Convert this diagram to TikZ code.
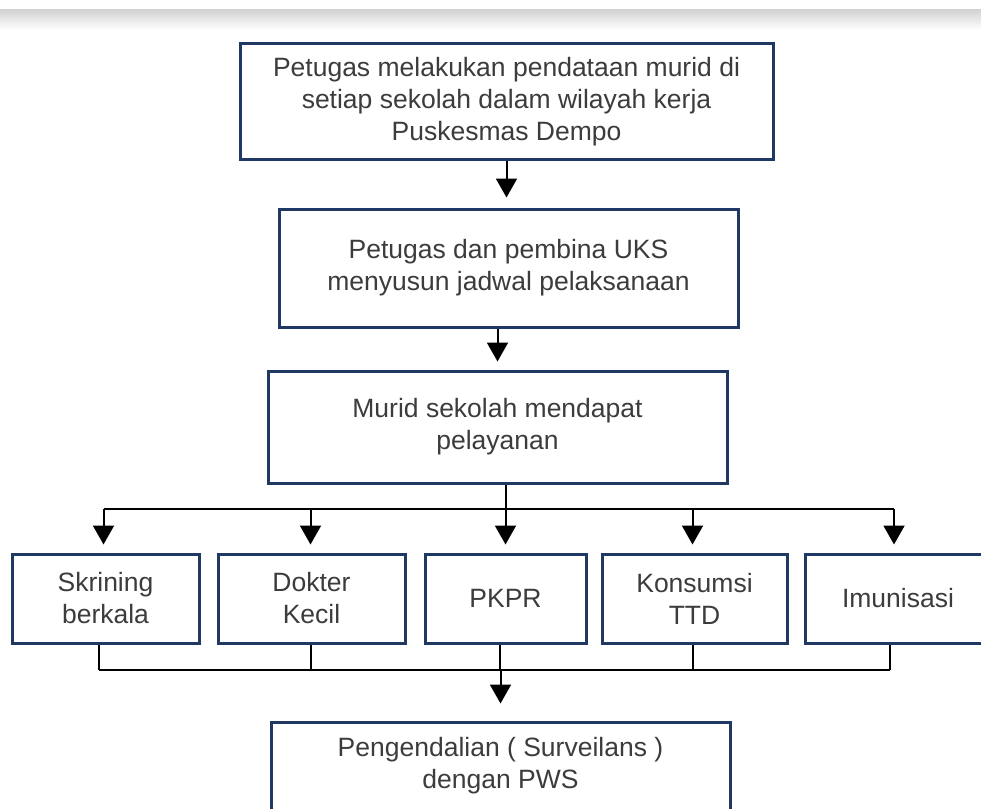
\documentclass[tikz,border=0pt]{standalone}
\usepackage{fontspec}
\setmainfont{Liberation Sans}
\usepackage{tikz}
\usetikzlibrary{arrows.meta}
\definecolor{boxline}{RGB}{32, 56, 100}
\definecolor{textgray}{RGB}{60, 60, 60}

\tikzset{
  box/.style={draw=boxline,line width=3pt,fill=white,align=center,text=textgray,
    font=\fontsize{26.5}{32}\selectfont,inner sep=0pt},
  link/.style={black,line width=2pt},
  arr/.style={link,-{Triangle[width=21pt,length=19pt]}}
}

\begin{document}
\begin{tikzpicture}[x=1pt,y=-1pt]
\useasboundingbox (0,0) rectangle (981,808);
\clip (0,0) rectangle (981,808);
\shade[top color=black!17,bottom color=white] (0,10) rectangle (981,30);
% alur utama
\node[box,minimum width=533pt,minimum height=115pt] (data) at (506.5,101.5)
  {Petugas melakukan pendataan murid di\\setiap sekolah dalam wilayah kerja\\Puskesmas Dempo};
\node[box,minimum width=459pt,minimum height=118pt] (jadwal) at (508.5,268)
  {Petugas dan pembina UKS\\menyusun jadwal pelaksanaan};
\node[box,minimum width=459pt,minimum height=112pt] (murid) at (497.5,427)
  {Murid sekolah mendapat\\pelayanan};
% jenis pelayanan
\node[box,minimum width=187pt,minimum height=89pt] (skrining) at (105.5,598.5) {Skrining\\berkala};
\node[box,minimum width=187pt,minimum height=89pt] (dokter) at (311.5,598.5) {Dokter\\Kecil};
\node[box,minimum width=161pt,minimum height=89pt] (pkpr) at (505.5,598.5) {PKPR};
\node[box,minimum width=185pt,minimum height=89pt] (konsumsi) at (694.5,598.5) {Konsumsi\\TTD};
\node[box,minimum width=186pt,minimum height=89pt] (imunisasi) at (898,598.5) {Imunisasi};
\node[box,minimum width=459pt,minimum height=88pt] (pws) at (500.5,766)
  {Pengendalian ( Surveilans )\\dengan PWS};
\coordinate (atas) at (0,509);
\coordinate (bawah) at (0,670);
% panah
\draw[arr,shorten >=10pt] (data.south) -- (data.south |- jadwal.north);
\draw[arr,shorten >=8pt] (murid.north |- jadwal.south) -- (murid.north);
\draw[link] (pkpr.north |- murid.south) -- (pkpr.north |- atas);
\draw[link] ([xshift=-2pt]skrining.north |- atas) -- ([xshift=-4pt]imunisasi.north |- atas);
\foreach \n/\dx in {skrining/-2,dokter/-1,pkpr/0,konsumsi/-2,imunisasi/-4}
  \draw[arr,shorten >=8pt] ([xshift=\dx pt]\n.north |- atas) -- ([xshift=\dx pt]\n.north);
\foreach \n/\dx in {skrining/-7,dokter/-1,pkpr/-6,konsumsi/-2,imunisasi/-8}
  \draw[link] ([xshift=\dx pt]\n.south) -- ([xshift=\dx pt]\n.south |- bawah);
\draw[link] ([xshift=-7pt]skrining.south |- bawah) -- ([xshift=-8pt]imunisasi.south |- bawah);
\draw[arr,shorten >=17pt] (pws.north |- bawah) -- (pws.north);
\end{tikzpicture}
\end{document}
